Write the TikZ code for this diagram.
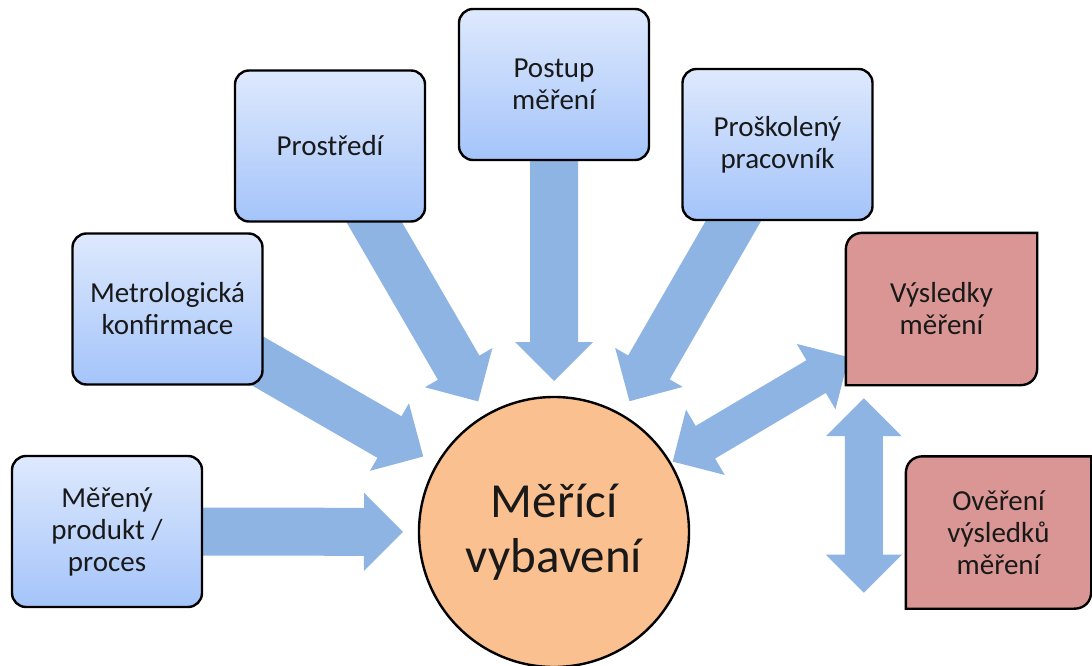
\documentclass[tikz,border=0pt]{standalone}
\usepackage{fontspec}
\setmainfont{Carlito}
\usetikzlibrary{calc}
\pgfdeclarelayer{bg}
\pgfdeclarelayer{mid}
\pgfsetlayers{bg,mid,main}

\definecolor{arrowblue}{RGB}{142,180,227}
\definecolor{boxtop}{RGB}{222,233,253}
\definecolor{boxbottom}{RGB}{164,196,250}
\definecolor{redfill}{RGB}{217,150,148}
\definecolor{hubfill}{RGB}{250,192,144}
\definecolor{ink}{RGB}{25,25,25}

\tikzset{
  boxtext/.style={align=center, text=ink, font=\fontsize{29}{32}\selectfont, inner sep=0pt},
  bluebox/.style={boxtext, draw=black, line width=2.4pt, rounded corners=14pt,
    top color=boxtop, bottom color=boxbottom, minimum width=190pt, minimum height=151pt},
  redbox/.style={boxtext, minimum width=#1, minimum height=152pt},
  redshape/.style={draw=black, line width=2.4pt, fill=redfill},
  hub/.style={circle, draw=black, line width=2.4pt, fill=hubfill, minimum size=270pt,
    inner sep=0pt, align=center, text=ink, font=\fontsize{49}{55}\selectfont},
  arrowfill/.style={fill=arrowblue},
}

% one-way block arrow from #1 to #2
\newcommand\fatarrow[2]{%
  \coordinate (fa-b) at ($(#2)!39pt!(#1)$);
  \fill[arrowfill] ($(#1)!24pt!90:(#2)$) -- ($(fa-b)!24pt!90:(#2)$) -- ($(fa-b)!39pt!90:(#2)$)
    -- (#2) -- ($(fa-b)!39pt!-90:(#2)$) -- ($(fa-b)!24pt!-90:(#2)$) -- ($(#1)!24pt!-90:(#2)$) -- cycle;}

% two-way block arrow between #1 and #2
\newcommand\twowayarrow[2]{%
  \coordinate (tw-a) at ($(#1)!38pt!(#2)$);
  \coordinate (tw-b) at ($(#2)!38pt!(#1)$);
  \fill[arrowfill] (#1) -- ($(tw-a)!38pt!90:(#2)$) -- ($(tw-a)!19pt!90:(#2)$)
    -- ($(tw-b)!19pt!-90:(#1)$) -- ($(tw-b)!38pt!-90:(#1)$) -- (#2)
    -- ($(tw-b)!38pt!90:(#1)$) -- ($(tw-b)!19pt!90:(#1)$)
    -- ($(tw-a)!19pt!-90:(#2)$) -- ($(tw-a)!38pt!-90:(#2)$) -- cycle;}

% box with top-left and bottom-right corners rounded
\newcommand\cutbox[1]{%
  \draw[redshape] (#1.south west) -- ($(#1.north west)+(0,17)$)
    .. controls ($(#1.north west)+(0,7)$) and ($(#1.north west)+(7,0)$) .. ($(#1.north west)+(17,0)$)
    -- (#1.north east) -- ($(#1.south east)+(0,-17)$)
    .. controls ($(#1.south east)+(0,-7)$) and ($(#1.south east)+(-7,0)$) .. ($(#1.south east)+(-17,0)$)
    -- cycle;}

\begin{document}
\begin{tikzpicture}[x=1pt,y=-1pt]
\useasboundingbox (0,0) rectangle (1092,666);

% centre
\node[hub] (circ) at (554,532) {Měřící\\vybavení};

% inputs
\node[bluebox] (prod)  at (107,531.5) {Měřený\\produkt /\\proces};
\node[bluebox] (metro) at (167.5,309) {Metrologická\\konfirmace};
\node[bluebox] (env)   at (330,146)   {Prostředí};
\node[bluebox] (proc)  at (554,84.5)  {Postup\\měření};
\node[bluebox] (staff) at (777.5,144.5) {Proškolený\\pracovník};

% outputs
\node[redbox=191pt] (res) at (941.5,309)   {Výsledky\\měření};
\node[redbox=185pt] (ver) at (998.5,532.5) {Ověření\\výsledků\\měření};

\begin{pgfonlayer}{mid}
  \cutbox{res}
  \cutbox{ver}
\end{pgfonlayer}

\begin{pgfonlayer}{bg}
  \foreach \b in {prod,metro,env,proc,staff}{
    \coordinate (tip-\b) at ($(circ.center)!151pt!(\b.center)$);
    \fatarrow{\b.center}{tip-\b}
  }
  \coordinate (res-end) at ($(res.south west)+(3,-28)$);
  \coordinate (circ-end) at ($(circ.center)!138pt!(res-end)$);
  \twowayarrow{circ-end}{res-end}
  \coordinate (up-end) at ($(res.south west)+(18,13)$);
  \coordinate (down-end) at ($(ver.south west)+(-42,-16)$);
  \twowayarrow{up-end}{down-end}
\end{pgfonlayer}
\end{tikzpicture}
\end{document}
